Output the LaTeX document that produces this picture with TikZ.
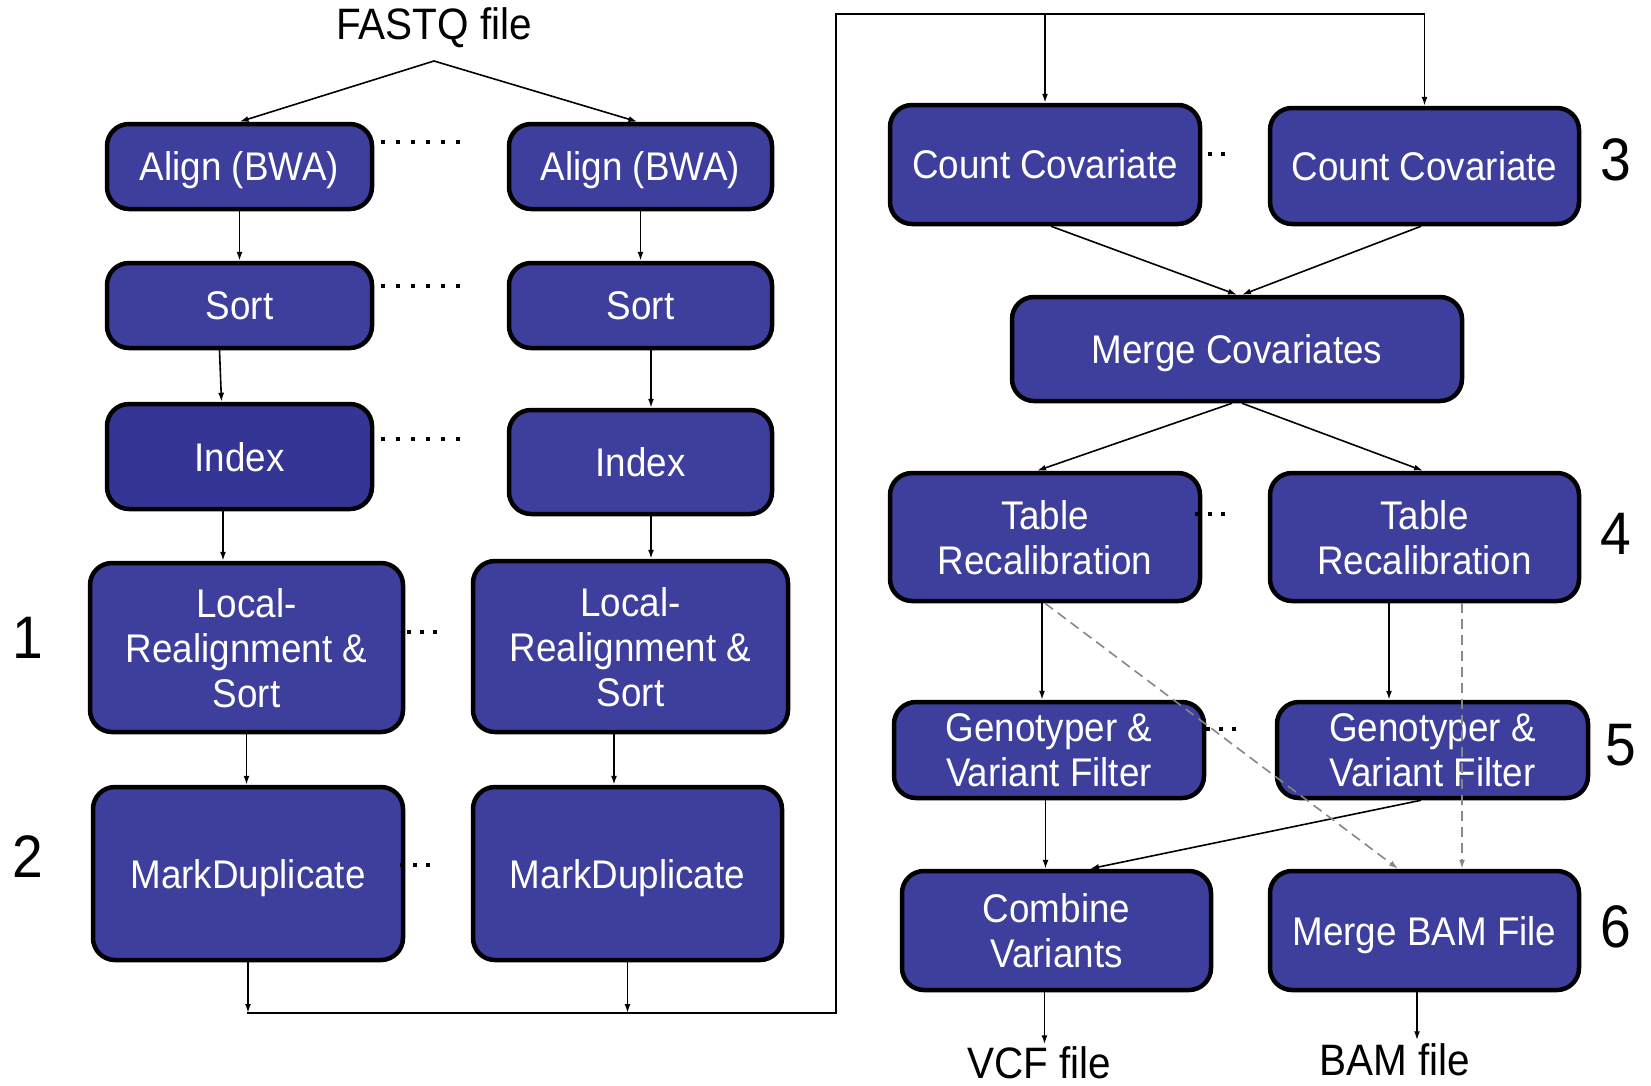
\documentclass[tikz,border=0pt]{standalone}
\usepackage{fontspec}
\setmainfont{Liberation Sans}[FakeStretch=0.92]
\usetikzlibrary{arrows.meta,calc}
\definecolor{taskblue}{RGB}{62,62,156}
\definecolor{taskdark}{RGB}{53,53,150}
\definecolor{dashgray}{RGB}{135,135,135}

\begin{document}
\begin{tikzpicture}[x=1pt,y=-1pt,
  task/.style={draw=black, line width=4.5pt, fill=taskblue, rounded corners=22pt,
    text=white, align=center, inner sep=0pt, text depth=0pt,
    font=\fontsize{40}{45}\selectfont},
  conn/.style={line width=1.6pt, draw=black},
  arr/.style={conn, -{Latex[length=9pt,width=6pt]}},
  ghost/.style={line width=1.6pt, draw=dashgray, dash pattern=on 10pt off 6pt,
    -{Latex[length=9pt,width=6pt]}},
  dotrow/.style={line width=4pt, dash pattern=on 4pt off 11pt},
  dotrowshort/.style={line width=4pt, dash pattern=on 4pt off 9pt},
  filelabel/.style={font=\fontsize{44}{46}\selectfont, inner sep=0pt},
  stagenum/.style={font=\fontsize{60}{60}\selectfont, inner sep=0pt}]

\fill[white] (0,0) rectangle (1651,1085);
\useasboundingbox (0,0) rectangle (1651,1085);

% ---------------- per-lane preprocessing (left half)
\node[filelabel] (fastq) at (434,28) {FASTQ file};
\coordinate (split) at (434,61);

\node[task, minimum width=265pt, minimum height=85pt] (al1) at (239.5,166.5) {Align (BWA)};
\node[task, minimum width=263pt, minimum height=85pt] (al2) at (640.5,166.5) {Align (BWA)};
\node[task, minimum width=265pt, minimum height=85pt] (so1) at (239.5,305.5) {Sort};
\node[task, minimum width=263pt, minimum height=85pt] (so2) at (640.5,305.5) {Sort};
\node[task, fill=taskdark, minimum width=265pt, minimum height=105pt] (ix1) at (239.5,456.5) {Index};
\node[task, minimum width=263pt, minimum height=104pt] (ix2) at (640.5,462) {Index};
\node[task, minimum width=313pt, minimum height=169pt] (lr1) at (246.5,647.5) {Local-\\Realignment \&\\Sort};
\node[task, minimum width=315pt, minimum height=171pt] (lr2) at (630.5,646.5) {Local-\\Realignment \&\\Sort};
\node[task, minimum width=310pt, minimum height=173pt] (md1) at (248,873.5) {MarkDuplicate};
\node[task, minimum width=309pt, minimum height=173pt] (md2) at (627.5,873.5) {MarkDuplicate};

\node[stagenum] (s1) at (28,638) {1};
\node[stagenum] (s2) at (28,857) {2};

\draw[arr] (split) -- (al1.north);
\draw[arr] (split) -- ([xshift=-3pt]al2.north);
\draw[arr] (al1.south) -- (so1.north);
\draw[arr] (al2.south) -- (so2.north);
\draw[arr] ([xshift=-20pt]so1.south) -- ([xshift=-18pt]ix1.north);
\draw[arr] ([xshift=10.5pt]so2.south) -- ([xshift=10.5pt]ix2.north);
\draw[arr] ([xshift=-16.5pt]ix1.south) -- ([xshift=-23.5pt]lr1.north);
\draw[arr] ([xshift=10.5pt]ix2.south) -- ([xshift=20.5pt]lr2.north);
\draw[arr] (lr1.south) -- (lr1.south |- md1.north);
\draw[arr] ([xshift=-16.5pt]lr2.south) -- ([xshift=-13.5pt]md2.north);

% gathering bus to the second half
\coordinate (busl) at (247,1013);
\coordinate (busr) at (836,1013);
\coordinate (topl) at (836,14);
\coordinate (topr) at (1425,14);
\draw[conn] (busl) -- (busr) -- (topl) -- (topr);
\draw[arr] (md1.south) -- (md1.south |- busl);
\draw[arr] (md2.south) -- (md2.south |- busl);

% lanes running side by side
\draw[dotrow] (381,142) -- (460,142);
\draw[dotrow] (381,286) -- (460,286);
\draw[dotrow] (381,439) -- (460,439);
\draw[dotrowshort] (407,632) -- (437,632);
\draw[dotrowshort] (400,865) -- (430,865);

% ---------------- recalibration and calling (right half)
\node[task, minimum width=310pt, minimum height=119pt] (cc1) at (1045,164.5) {Count Covariate};
\node[task, minimum width=309pt, minimum height=116pt] (cc2) at (1424.5,166) {Count Covariate};
\node[task, minimum width=450pt, minimum height=104pt] (mc) at (1237,349) {Merge Covariates};
\node[task, minimum width=310pt, minimum height=128pt] (tr1) at (1045,537) {Table\\Recalibration};
\node[task, minimum width=309pt, minimum height=128pt] (tr2) at (1424.5,537) {Table\\Recalibration};
\node[task, minimum width=310pt, minimum height=96pt] (gv1) at (1049,750) {Genotyper \&\\Variant Filter};
\node[task, minimum width=311pt, minimum height=96pt] (gv2) at (1432.5,750) {Genotyper \&\\Variant Filter};
\node[task, minimum width=309pt, minimum height=119pt] (cv) at (1056.5,930.5) {Combine\\Variants};
\node[task, minimum width=309pt, minimum height=119pt] (mb) at (1424.5,930.5) {Merge BAM File};

\node[stagenum] (s3) at (1616,160) {3};
\node[stagenum] (s4) at (1616,534) {4};
\node[stagenum] (s5) at (1621,745) {5};
\node[stagenum] (s6) at (1616,927) {6};

\node[filelabel] (vcf) at (1039,1063) {VCF file};
\node[filelabel] (bam) at (1395,1060) {BAM file};

\draw[arr] (topl -| cc1.north) -- (cc1.north);
\draw[arr] (topr -| cc2.north) -- (cc2.north);
\draw[arr] ([xshift=6pt]cc1.south) -- (mc.north);
\draw[arr] ([xshift=-3.5pt]cc2.south) -- ([xshift=5pt]mc.north);
\draw[arr] ([xshift=-5pt]mc.south) -- ([xshift=-8pt]tr1.north);
\draw[arr] ([xshift=5pt]mc.south) -- ([xshift=-1.5pt]tr2.north);
\draw[arr] ([xshift=-3pt]tr1.south) -- ([xshift=-7pt]gv1.north);
\draw[arr] ([xshift=-35.5pt]tr2.south) -- ([xshift=-43.5pt]gv2.north);
\draw[arr] ([xshift=-3.5pt]gv1.south) -- ([xshift=-11pt]cv.north);
\draw[arr] ([xshift=-11.5pt]gv2.south) -- ([xshift=33.5pt]cv.north);
\draw[arr] ([xshift=-12pt]cv.south) -- ++(0,52);
\draw[arr] ([xshift=-7.5pt]mb.south) -- ++(0,48);

\draw[dotrowshort] (1208,154) -- (1225,154);
\draw[dotrowshort] (1195,514) -- (1225,514);
\draw[dotrowshort] (1206,729) -- (1236,729);

% recalibrated reads routed to the merge step
\draw[ghost] (tr1.south) -- ([xshift=-26.5pt]mb.north);
\draw[ghost] ([xshift=37.5pt]tr2.south) -- ([xshift=37.5pt]mb.north);
\end{tikzpicture}
\end{document}
